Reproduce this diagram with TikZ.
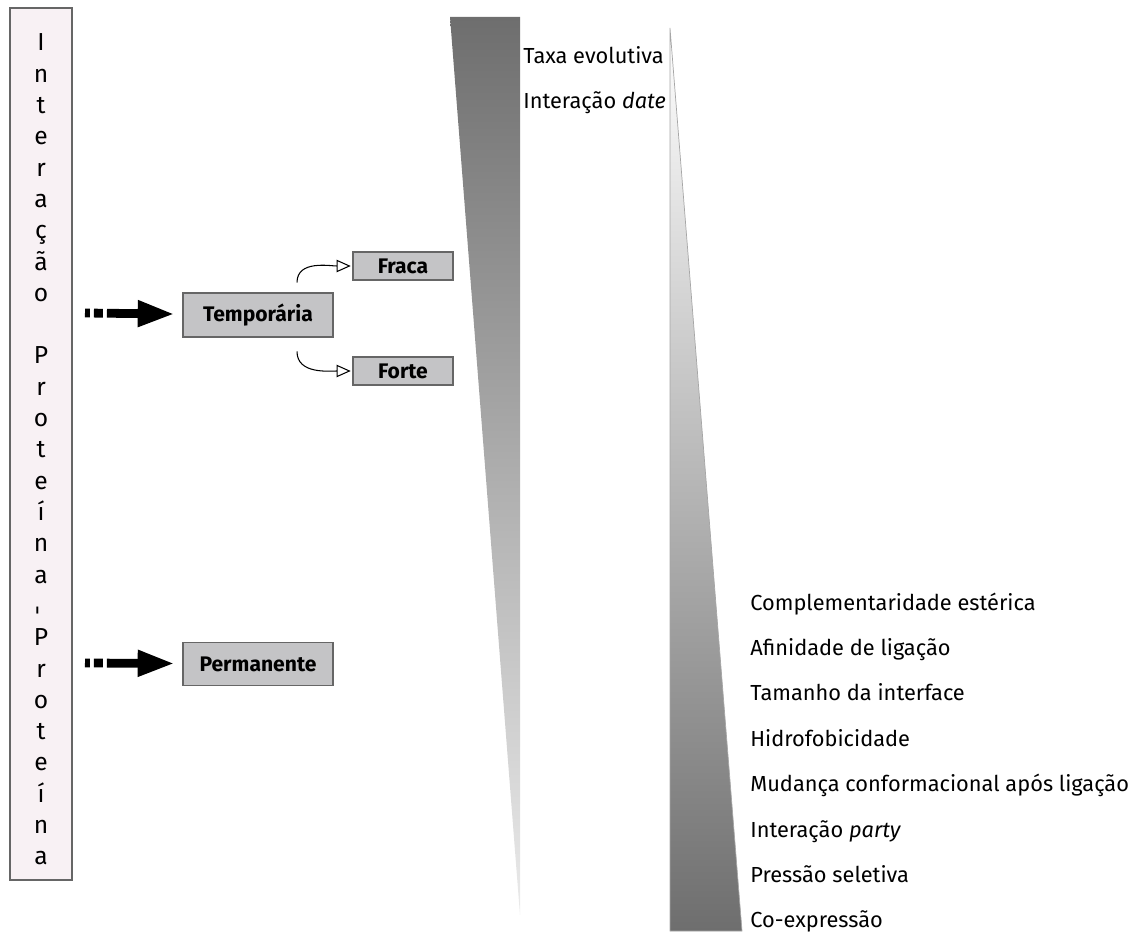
\documentclass[tikz,border=0pt]{standalone}
\usepackage{fontspec}
\setmainfont{Fira Sans}
\usetikzlibrary{arrows.meta,calc}

\definecolor{boxgray}{HTML}{C4C4C6}
\definecolor{edgegray}{HTML}{666666}
\definecolor{pinkbg}{HTML}{F8F1F4}
\definecolor{wedgedark}{HTML}{6E6E6E}
\definecolor{wedgelight}{HTML}{EBEBEB}

\tikzset{
  kind/.style={draw=edgegray, fill=boxgray, line width=0.6pt, inner sep=0pt,
    font=\fontsize{12}{14}\selectfont\bfseries},
  branch/.style={-{Triangle[open,length=8pt,width=7pt]}, line width=0.6pt, shorten >=1pt},
  bigarrow/.style={line width=5pt, dash pattern=on 2.8pt off 2.3pt on 5.1pt off 2.3pt on 100pt,
    -{Triangle[length=21pt,width=14pt]}, shorten >=4.5pt},
  factor/.style={anchor=base west, inner sep=0pt, font=\fontsize{12.4}{14}\selectfont},
  letter/.style={anchor=base, inner sep=0pt, font=\fontsize{14}{16}\selectfont}
}

\begin{document}
\begin{tikzpicture}[x=0.02cm, y=-0.02cm]
\useasboundingbox (0,0) rectangle (1129,935);

% Vertical title column
  \draw[edgegray, fill=pinkbg, line width=0.8pt] (10,8) rectangle (72,880);
  \foreach \ch [count=\i from 0] in {I,n,t,e,r,a,ç,ã,o,P,r,o,t,e,í,n,a,{\rotatebox[origin=c]{90}{-}},P,r,o,t,e,í,n,a}{
    \pgfmathsetmacro{\yy}{51+31.3*(\i+(\i>8))}
    \node[letter] (ltr\i) at (41,\yy) {\ch};
  }

% Interaction types
  \node[kind, minimum width=3cm, minimum height=0.88cm] (temp) at (258,315) {Temporária};
  \node[kind, minimum width=2cm, minimum height=0.56cm] (fraca) at (403,266) {Fraca};
  \node[kind, minimum width=2cm, minimum height=0.56cm] (forte) at (403,371) {Forte};
  \node[kind, minimum width=3cm, minimum height=0.86cm] (perm) at (258,664) {Permanente};

% Thick dashed arrows
  \coordinate (tstart) at (85,313);
  \coordinate (pstart) at (85,663);
  \draw[bigarrow] (tstart) -- (temp);
  \draw[bigarrow] (pstart) -- (perm);

% Branches of the temporary interaction
  \draw[branch] ($(temp.north)+(39,-10)$) to[out=90,in=180] (fraca.west);
  \draw[branch] ($(temp.south)+(39,14)$) to[out=-90,in=180] (forte.west);

% Wedges
  \shade[top color=wedgedark, bottom color=wedgelight] (450,17) -- (520,17) -- (520,915) -- cycle;
  \shadedraw[top color=white, bottom color=wedgedark, draw=gray!70, line width=0.4pt]
    (670,28) -- (742,931) -- (670,931) -- cycle;

% Labels on the wedges
  \node[factor] (taxa) at (523,64) {Taxa evolutiva};
  \node[factor] (date) at (523,109) {Interação \textit{date}};
  \foreach \txt [count=\i from 0] in {Complementaridade estérica, Afinidade de ligação,
      Tamanho da interface, Hidrofobicidade, Mudança conformacional após ligação,
      {Interação \textit{party}}, Pressão seletiva, Co-expressão}{
    \pgfmathsetmacro{\yy}{610+45.4*\i}
    \node[factor] (fac\i) at (750,\yy) {\txt};
  }
\end{tikzpicture}
\end{document}
